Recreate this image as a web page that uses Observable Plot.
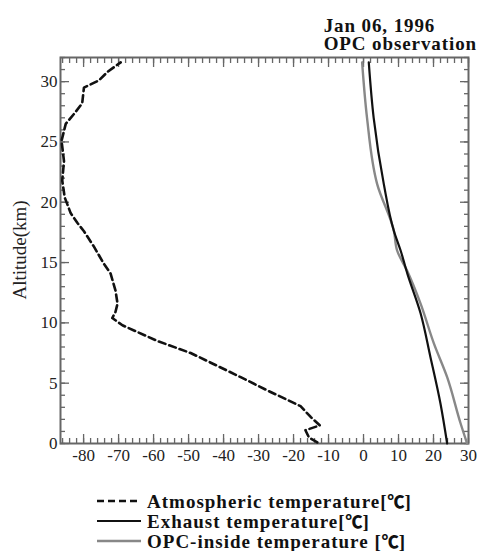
<!DOCTYPE html>
<html>
<head>
<meta charset="utf-8">
<script src="https://cdn.jsdelivr.net/npm/d3@7"></script>
<script src="https://cdn.jsdelivr.net/npm/@observablehq/plot@0.6"></script>
<style>
  html, body { margin: 0; padding: 0; background: #fff; }
  body { width: 479px; height: 551px; overflow: hidden; font-family: "Liberation Serif", serif; }
  #title { height: 54px; box-sizing: border-box; padding-top: 17px; padding-right: 2px; text-align: right; font-weight: bold; font-size: 19px; color: #111; white-space: nowrap; letter-spacing: 0.9px; }
  #title .box { text-align: left; display: inline-block; }
  #title .ln { height: 18px; line-height: 18px; }
  #chart svg { display: block; }
  #chart svg text { font-family: "Liberation Serif", serif !important; }
  #legend { padding-top: 16px; padding-left: 97px; font-weight: bold; font-size: 19px; letter-spacing: 1px; color: #111; white-space: nowrap; }
  .row { display: flex; align-items: center; height: 20px; line-height: 18px; }
  .row svg { margin-right: 6px; flex: none; }
  .deg { font-family: "Noto Sans CJK JP", "DejaVu Sans", sans-serif; font-weight: 900; font-size: 17px; line-height: 17px; letter-spacing: 0; }
</style>
</head>
<body>
<div id="title"><div class="box"><div class="ln">Jan 06, 1996</div><div class="ln">OPC observation</div></div></div>
<div id="chart"></div>
<div id="legend"></div>
<script>
// Atmospheric temperature profile (°C) vs altitude (km)
const atmTemp = [-13.2, -15.6, -16.6, -12.5, -15.1, -18, -27.5, -35.1, -49.4, -58.9, -68.9, -71.8, -70.9, -70.3, -70.9, -72.3, -74.2, -77.0, -79.9, -81.8, -83.7, -85.4, -86.1, -85.6, -86.3, -85.1, -82.8, -80.4, -79.9, -75.6, -73.2, -69.4];
const atmAlt  = [0.1, 0.5, 1.1, 1.5, 2.2, 3.1, 4.4, 5.5, 7.5, 8.5, 9.8, 10.4, 10.9, 11.6, 12.7, 14.1, 14.9, 16.3, 17.6, 18.3, 19.1, 20.4, 21.8, 23.4, 25.1, 26.5, 27.3, 28.2, 29.5, 30.1, 30.8, 31.6];

// Exhaust temperature
const exhTemp = [23.9, 22.0, 19.1, 16.3, 12.5, 10.6, 8.7, 5.8, 2.9, 1.5];
const exhAlt  = [0, 3.3, 7.2, 10.8, 14.1, 16.0, 17.6, 21.5, 27.0, 31.6];

// OPC-inside temperature
const opcTemp = [29.6, 27.7, 23.9, 20.1, 16.3, 12.5, 9.6, 8.7, 3.9, 1.0, -0.4];
const opcAlt  = [0, 1.7, 5.5, 8.3, 11.6, 14.3, 16.0, 17.6, 21.5, 27.0, 31.6];

const xTicks = [-80, -70, -60, -50, -40, -30, -20, -10, 0, 10, 20, 30];
const yTicks = [0, 5, 10, 15, 20, 25, 30];
const xMinor = d3.range(-86, 31, 2);
const yMinor = d3.range(0, 33, 1);
const xDomain = [-86.6, 30];
const yDomain = [0, 32];

const seriesNames = ["Atmospheric temperature[", "Exhaust temperature[", "OPC-inside temperature ["];
const unitText = "℃";
const closeText = "]";
const seriesColors = ["#111", "#111", "#888"];
const seriesDash = ["7 4", null, null];
const seriesWidth = [2.6, 2.2, 2.4];

const atm = atmTemp.map((t, i) => ({t, a: atmAlt[i]}));
const exh = exhTemp.map((t, i) => ({t, a: exhAlt[i]}));
const opc = opcTemp.map((t, i) => ({t, a: opcAlt[i]}));

const frameColor = "#666";

const plot = Plot.plot({
  width: 479,
  height: 421,
  marginTop: 3,
  marginBottom: 32,
  marginLeft: 60,
  marginRight: 11,
  style: {fontFamily: "'Liberation Serif', serif", fontSize: "17px", color: "#222", background: "#fff"},
  x: {domain: xDomain},
  y: {domain: yDomain},
  marks: [
    // labels
    Plot.axisX({anchor: "bottom", ticks: xTicks, tickSize: 0, tickPadding: 5, tickFormat: d => String(d), fontSize: 17, fontFamily: "Liberation Serif", label: null}),
    Plot.axisY({anchor: "left", ticks: yTicks, tickSize: 0, tickPadding: 3, tickFormat: d => String(d), fontSize: 17, fontFamily: "Liberation Serif", label: null}),
    // inward ticks
    Plot.axisX({anchor: "bottom", ticks: xTicks, tickSize: -9, text: null, label: null, stroke: frameColor, strokeWidth: 1.3}),
    Plot.axisX({anchor: "bottom", ticks: xMinor, tickSize: -5, text: null, label: null, stroke: frameColor, strokeWidth: 1.3}),
    Plot.axisX({anchor: "top", ticks: xTicks, tickSize: -9, text: null, label: null, stroke: frameColor, strokeWidth: 1.3}),
    Plot.axisX({anchor: "top", ticks: xMinor, tickSize: -5, text: null, label: null, stroke: frameColor, strokeWidth: 1.3}),
    Plot.axisY({anchor: "left", ticks: yTicks, tickSize: -9, text: null, label: null, stroke: frameColor, strokeWidth: 1.3}),
    Plot.axisY({anchor: "left", ticks: yMinor, tickSize: -5, text: null, label: null, stroke: frameColor, strokeWidth: 1.3}),
    Plot.axisY({anchor: "right", ticks: yTicks, tickSize: -9, text: null, label: null, stroke: frameColor, strokeWidth: 1.3}),
    Plot.axisY({anchor: "right", ticks: yMinor, tickSize: -5, text: null, label: null, stroke: frameColor, strokeWidth: 1.3}),
    Plot.frame({stroke: frameColor, strokeWidth: 2}),
    Plot.line(opc, {x: "t", y: "a", stroke: seriesColors[2], strokeWidth: seriesWidth[2], curve: "monotone-y"}),
    Plot.line(exh, {x: "t", y: "a", stroke: seriesColors[1], strokeWidth: seriesWidth[1], curve: "monotone-y"}),
    Plot.line(atm, {x: "t", y: "a", stroke: seriesColors[0], strokeWidth: seriesWidth[0], strokeDasharray: seriesDash[0], curve: "linear"})
  ]
});

// y-axis title
const svg = d3.select(plot);
svg.append("text")
  .attr("transform", "translate(22,196) rotate(-90)")
  .attr("text-anchor", "middle")
  .attr("dominant-baseline", "middle")
  .style("font-size", "19px")
  .attr("fill", "#222")
  .text("Altitude(km)");

document.getElementById("chart").appendChild(plot);

// legend
const leg = d3.select("#legend");
seriesNames.forEach((name, i) => {
  const row = leg.append("div").attr("class", "row");
  const s = row.append("svg").attr("width", 44).attr("height", 10);
  s.append("line").attr("x1", 0).attr("x2", 44).attr("y1", 5).attr("y2", 5)
    .attr("stroke", seriesColors[i]).attr("stroke-width", seriesWidth[i])
    .attr("stroke-dasharray", seriesDash[i]);
  const sp = row.append("span");
  sp.append("span").text(name);
  sp.append("span").attr("class", "deg").text(unitText);
  sp.append("span").text(closeText);
});
</script>
</body>
</html>
